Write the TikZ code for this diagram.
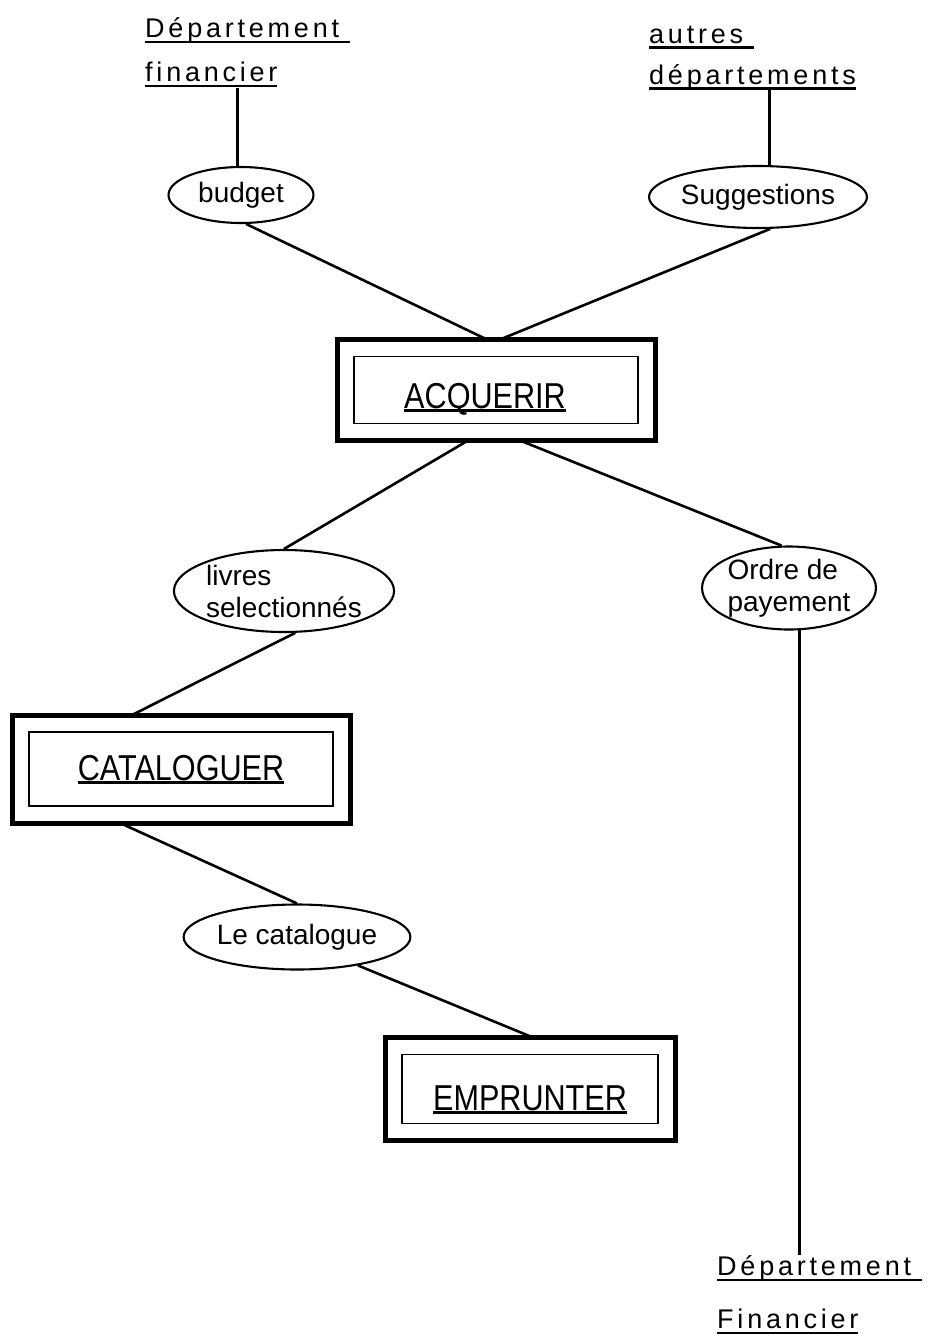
\documentclass[tikz,border=0pt]{standalone}
\usepackage{fontspec}
\setmainfont{Liberation Sans}
\newfontfamily\spacedfont[LetterSpace=14]{Liberation Sans}
\newfontfamily\narrowfont[FakeStretch=0.85]{Liberation Sans}
\usetikzlibrary{shapes.geometric}
\newcommand\souligne[2][0.2em]{\setbox0=\hbox{#2}\rlap{\rule[-#1]{\wd0}{0.08em}}\box0}

\begin{document}
\begin{tikzpicture}[
  x=1pt, y=-1pt,
  ext/.style={font=\spacedfont\fontsize{27}{44}\selectfont, align=left,
              inner sep=0pt, anchor=south west},
  flux/.style={ellipse, draw, line width=2.1pt, inner sep=0pt,
               font=\fontsize{28}{32}\selectfont, align=left},
  proc/.style={rectangle, draw, line width=5pt, outer sep=0pt,
               text height=40pt, text depth=3.3pt,
               font=\narrowfont\fontsize{36}{40}\selectfont},
  lien/.style={line width=2.6pt}]
\useasboundingbox (0,0) rectangle (937,1339);
% entites externes
\node[ext] (dfin) at (145,87.5) {\souligne{Département\ }\\\souligne{financier}};
\node[ext, font=\spacedfont\fontsize{27}{41}\selectfont] (autres) at (649,90)
  {\souligne{autres\ }\\\souligne{départements}};
\node[ext, font=\spacedfont\fontsize{27}{53}\selectfont] (dfin2) at (717,1334)
  {\souligne{Département\ }\\\souligne{Financier}};
% flux
\node[flux, minimum width=145, minimum height=56] (budget) at (241,195) {budget};
\node[flux, minimum width=183, minimum height=62] (sugg) at (758,197) {Suggestions};
\node[flux, minimum width=220, minimum height=82] (livres) at (284,591) {livres\\selectionnés};
\node[flux, minimum width=170, minimum height=83] (ordre) at (789,588) {Ordre de\\payement};
\node[flux, minimum width=209, minimum height=65] (catal) at (297,937) {Le catalogue};
% processus
\node[proc, minimum width=318, minimum height=101] (acq) at (496,390)
  {\hspace*{-22pt}\souligne[0.09em]{ACQUERIR}};
\node[proc, minimum width=338, minimum height=108, text height=27pt] (cat) at (181,769)
  {\souligne[0.09em]{CATALOGUER}};
\node[proc, minimum width=290, minimum height=103, text height=46pt] (emp) at (530,1089)
  {\souligne[0.09em]{EMPRUNTER}};
\foreach \p in {acq,cat,emp}
  \draw[line width=1.8pt] ([xshift=17pt,yshift=17pt]\p.south west)
    rectangle ([xshift=-17pt,yshift=-17pt]\p.north east);
% liens
\draw[lien] (budget.97) -- (budget.97 |- dfin.south);
\draw[lien] (sugg.70) -- (sugg.70 |- autres.south);
\draw[lien] (budget.-80) -- ([xshift=-9pt]acq.north);
\draw[lien] (sugg.-69) -- ([xshift=4pt]acq.north);
\draw[lien] ([xshift=-28pt]acq.south) -- (livres.north);
\draw[lien] ([xshift=24pt]acq.south) -- (ordre.100);
\draw[lien] (livres.-75) -- ([xshift=-49pt]cat.north);
\draw[lien] ([xshift=-61pt]cat.south) -- (catal.north);
\draw[lien] (catal.-25) -- ([xshift=3pt]emp.north);
\draw[lien] (ordre.-76) -- (ordre.-76 |- dfin2.north);
\end{tikzpicture}
\end{document}
